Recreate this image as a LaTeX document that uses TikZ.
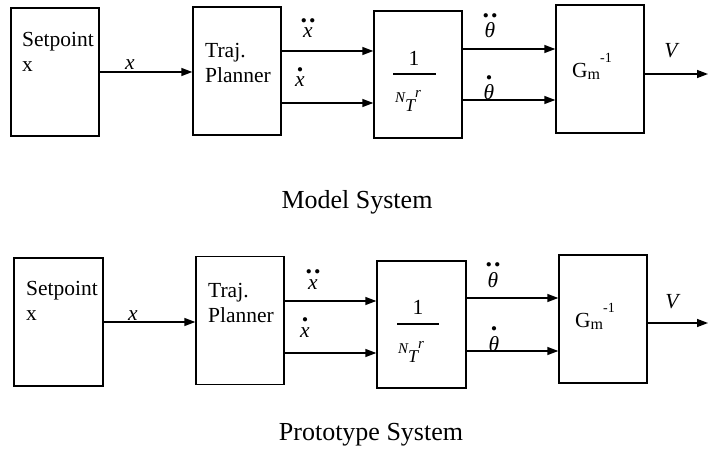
\documentclass[tikz,border=0pt]{standalone}
\usepackage{amsmath}
\usepackage{fontspec}
\setmainfont{Liberation Serif}
\usetikzlibrary{arrows.meta}

\tikzset{
  block/.style={draw, line width=1.4pt, minimum width=88pt, minimum height=128pt, inner sep=0pt},
  sig/.style={line width=1.4pt, -{Triangle[length=11pt, width=8pt]}},
  lbl/.style={inner sep=0pt, font=\fontsize{21.5}{25}\selectfont},
  title/.style={inner sep=0pt, font=\fontsize{26}{30}\selectfont},
}

% time derivatives with heavy dots
\newcommand{\onedot}[1]{\ensuremath{\overset{\scriptscriptstyle\bullet}{\textit{#1}}}}
\newcommand{\twodot}[1]{\ensuremath{\overset{\scriptscriptstyle\bullet\mkern5mu\bullet}{\textit{#1}}}}
\newcommand{\gearden}{%
  {\fontsize{15}{15}\selectfont\itshape N}%
  \raisebox{-9pt}{\fontsize{18}{18}\selectfont\itshape T}%
  \raisebox{5pt}{\fontsize{15}{15}\selectfont\itshape r}}
\newcommand{\gminv}{%
  G\raisebox{-2pt}{\fontsize{16}{16}\selectfont m}%
  \raisebox{15pt}{\fontsize{14}{14}\selectfont -1}}

\begin{document}
\begin{tikzpicture}[x=1pt, y=1pt]
  \useasboundingbox (0,0) rectangle (708,458);

  % Model system
  \node [block] (set1) at (55, 386) {};
  \node [block] (traj1) at (237, 387) {};
  \node [block, minimum height=127pt] (gear1) at (418, 383.5) {};
  \node [block] (inv1) at (600, 389) {};
  \coordinate (out1) at (708, 384);

  \node [lbl, align=left, anchor=north west] (setT1) at (22, 426) {Setpoint\\x};
  \node [lbl, align=left, anchor=north west] (trajT1) at (205, 415) {Traj.\\Planner};
  \node [lbl, anchor=base] (one1) at (414, 392) {1};
  \draw [line width=1.2pt] (393, 384) -- (436, 384);
  \node [lbl, anchor=base west] (den1) at (395, 355) {\gearden};
  \node [lbl, anchor=base west] (gm1) at (572, 380) {\gminv};

  \draw [sig] (set1.east) -- (set1.east -| traj1.west);
  \draw [sig] ([yshift=20pt]traj1.east) -- ([yshift=20pt]traj1.east -| gear1.west);
  \draw [sig] ([yshift=-32pt]traj1.east) -- ([yshift=-32pt]traj1.east -| gear1.west);
  \draw [sig] ([yshift=25.5pt]gear1.east) -- ([yshift=25.5pt]gear1.east -| inv1.west);
  \draw [sig] ([yshift=-25.5pt]gear1.east) -- ([yshift=-25.5pt]gear1.east -| inv1.west);
  \draw [sig] (inv1.east |- out1) -- (out1);

  \node [lbl, anchor=base] (x1) at (130, 388) {\textit{x}};
  \node [lbl, anchor=base] (xdd1) at (308, 420) {\twodot{x}};
  \node [lbl, anchor=base] (xd1) at (300, 371) {\onedot{x}};
  \node [lbl, anchor=base] (thdd1) at (490, 420) {\twodot{θ}};
  \node [lbl, anchor=base] (thd1) at (489, 358) {\onedot{θ}};
  \node [lbl, anchor=base] (v1) at (672, 400) {\textit{V}};

  \node [title] (model) at (357, 256) {Model System};

  % Prototype system
  \node [block, minimum width=89pt] (set2) at (58.5, 136) {};
  \node [block] (traj2) at (240, 137.5) {};
  \node [block, minimum width=89pt, minimum height=127pt] (gear2) at (421.5, 133.5) {};
  \node [block] (inv2) at (603, 139) {};
  \coordinate (out2) at (708, 135);

  \node [lbl, align=left, anchor=north west] (setT2) at (26, 177) {Setpoint\\x};
  \node [lbl, align=left, anchor=north west] (trajT2) at (208, 175) {Traj.\\Planner};
  \node [lbl, anchor=base] (one2) at (418, 144) {1};
  \draw [line width=1.2pt] (397, 134) -- (439, 134);
  \node [lbl, anchor=base west] (den2) at (398, 105) {\gearden};
  \node [lbl, anchor=base west] (gm2) at (575, 131) {\gminv};

  \draw [sig] (set2.east) -- (set2.east -| traj2.west);
  \draw [sig] ([yshift=19.5pt]traj2.east) -- ([yshift=19.5pt]traj2.east -| gear2.west);
  \draw [sig] ([yshift=-32.5pt]traj2.east) -- ([yshift=-32.5pt]traj2.east -| gear2.west);
  \draw [sig] ([yshift=26.5pt]gear2.east) -- ([yshift=26.5pt]gear2.east -| inv2.west);
  \draw [sig] ([yshift=-26.5pt]gear2.east) -- ([yshift=-26.5pt]gear2.east -| inv2.west);
  \draw [sig] (inv2.east |- out2) -- (out2);

  \node [lbl, anchor=base] (x2) at (133, 138) {\textit{x}};
  \node [lbl, anchor=base] (xdd2) at (313, 169) {\twodot{x}};
  \node [lbl, anchor=base] (xd2) at (305, 121) {\onedot{x}};
  \node [lbl, anchor=base] (thdd2) at (493, 171) {\twodot{θ}};
  \node [lbl, anchor=base] (thd2) at (494, 107) {\onedot{θ}};
  \node [lbl, anchor=base] (v2) at (673, 150) {\textit{V}};

  \node [title] (proto) at (371, 23) {Prototype System};
\end{tikzpicture}
\end{document}
